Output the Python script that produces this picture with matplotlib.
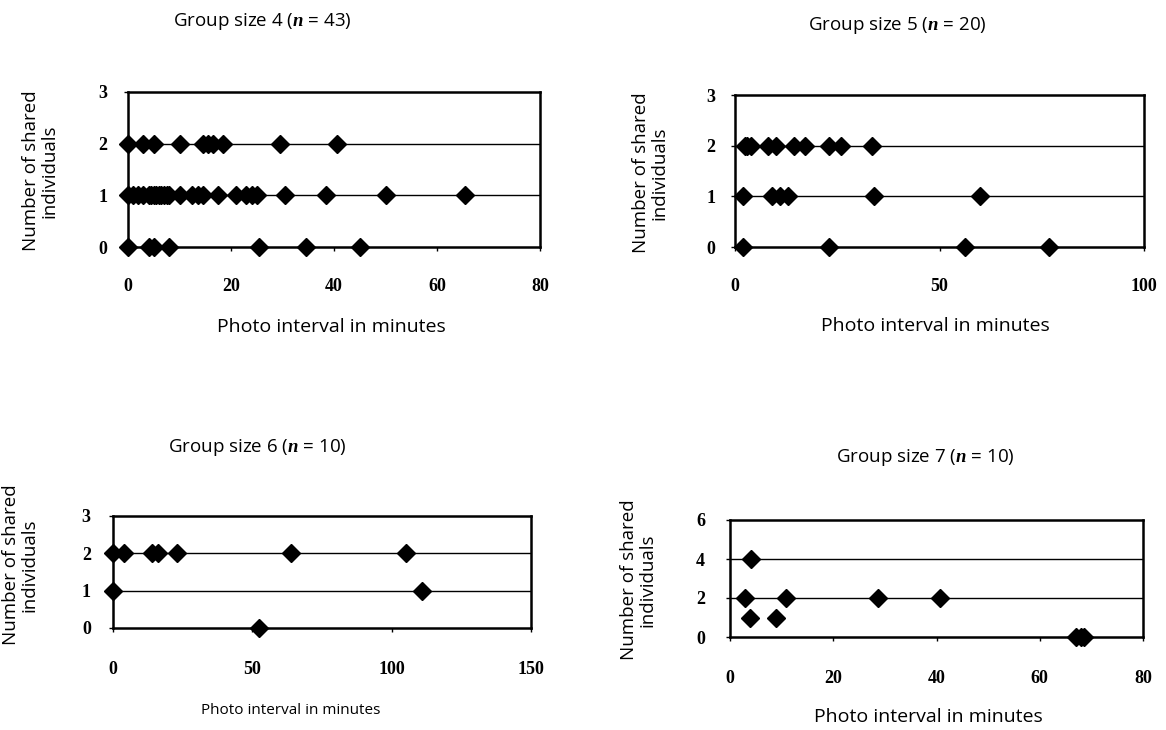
import numpy as np
import matplotlib
matplotlib.use('Agg')
import matplotlib.pyplot as plt

plt.rcParams['font.family'] = 'Liberation Serif'
plt.rcParams['mathtext.fontset'] = 'custom'
plt.rcParams['mathtext.rm'] = 'Open Sans'
plt.rcParams['mathtext.it'] = 'Liberation Serif:italic:bold'

# Group size 4 (n = 43)
g4_x2 = [0, 3, 5, 10, 14.5, 15.5, 16.5, 18.5, 29.5, 40.5]
g4_x1 = [0, 1, 2, 3, 4, 4.5, 5, 5.5, 6, 6.5, 7, 7.5, 8, 10, 12.5, 13.5, 14.5,
         17.5, 21, 23, 24, 25, 30.5, 38.5, 50, 65.5]
g4_x0 = [0, 4, 5, 8, 25.5, 34.5, 45]

# Group size 5 (n = 20)
g5_x2 = [2.5, 3, 4, 8, 10, 14.5, 17, 23, 26, 33.5]
g5_x1 = [2, 9, 11, 13, 34, 60]
g5_x0 = [2, 23, 56.3, 76.8]

# Group size 6 (n = 10)
g6_x2 = [0, 4, 14, 16, 23, 64, 105]
g6_x1 = [0, 111]
g6_x0 = [52.5]

# Group size 7 (n = 10)
g7_x4 = [4.1]
g7_x2 = [2.9, 10.8, 28.7, 40.6]
g7_x1 = [3.9, 8.9]
g7_x0 = [67, 68, 68.5]

panels = [
    dict(title=r'Group size 4 ($n$ = 43)', groups=[(g4_x0, 0), (g4_x1, 1), (g4_x2, 2)],
         xlim=80, xticks=[0, 20, 40, 60, 80], ylim=3, yticks=[0, 1, 2, 3],
         box=(128, 540, 92, 247), xpad=19, ypad=12,
         title_xy=(173, 22), xlab_xy=(331, 327), ylab_xy=(40, 171), xlab_fs=14),
    dict(title=r'Group size 5 ($n$ = 20)', groups=[(g5_x0, 0), (g5_x1, 1), (g5_x2, 2)],
         xlim=100, xticks=[0, 50, 100], ylim=3, yticks=[0, 1, 2, 3],
         box=(735, 1144, 95, 247), xpad=19, ypad=11,
         title_xy=(808, 25), xlab_xy=(935, 326), ylab_xy=(650, 173), xlab_fs=14),
    dict(title=r'Group size 6 ($n$ = 10)', groups=[(g6_x0, 0), (g6_x1, 1), (g6_x2, 2)],
         xlim=150, xticks=[0, 50, 100, 150], ylim=3, yticks=[0, 1, 2, 3],
         box=(113, 531, 516, 628), xpad=21, ypad=13,
         title_xy=(168, 447), xlab_xy=(291, 710), ylab_xy=(20, 565), xlab_fs=11),
    dict(title=r'Group size 7 ($n$ = 10)', groups=[(g7_x0, 0), (g7_x1, 1), (g7_x2, 2), (g7_x4, 4)],
         xlim=80, xticks=[0, 20, 40, 60, 80], ylim=6, yticks=[0, 2, 4, 6],
         box=(730, 1143, 520, 637), xpad=21, ypad=15,
         title_xy=(836, 457), xlab_xy=(928, 717), ylab_xy=(638, 580), xlab_fs=14),
]

W, H = 1166, 730
fig = plt.figure(figsize=(W / 100, H / 100), dpi=100)

for p in panels:
    x0, x1, ytop, ybot = p['box']
    ax = fig.add_axes([x0 / W, 1 - ybot / H, (x1 - x0) / W, (ybot - ytop) / H])
    ax.set_xlim(0, p['xlim'])
    ax.set_ylim(0, p['ylim'])
    ax.set_xticks(p['xticks'])
    ax.set_yticks(p['yticks'])
    for yv in p['yticks'][1:-1]:
        ax.axhline(yv, color='black', lw=1.0, zorder=1)
    for xs, yv in p['groups']:
        ax.plot(xs, [yv] * len(xs), linestyle='none', marker='D', ms=9,
                color='black', clip_on=False, zorder=3)
    for s in ax.spines.values():
        s.set_linewidth(1.8)
    ax.tick_params(axis='x', direction='out', length=3, width=1, pad=p['xpad'],
                   labelsize=13)
    ax.tick_params(axis='y', direction='out', length=3, width=1, pad=p['ypad'],
                   labelsize=13)
    for lbl in ax.get_xticklabels() + ax.get_yticklabels():
        lbl.set_fontweight('bold')
    fig.text(p['title_xy'][0] / W, 1 - p['title_xy'][1] / H, p['title'],
             ha='left', va='center', fontsize=13.5, family='Open Sans')
    fig.text(p['xlab_xy'][0] / W, 1 - p['xlab_xy'][1] / H, 'Photo interval in minutes',
             ha='center', va='center', fontsize=p['xlab_fs'], family='Open Sans')
    fig.text(p['ylab_xy'][0] / W, 1 - p['ylab_xy'][1] / H, 'Number of shared\nindividuals',
             ha='center', va='center', rotation=90, fontsize=13.5, linespacing=1.05,
             family='Open Sans')

fig.savefig('out.png', dpi=100)
